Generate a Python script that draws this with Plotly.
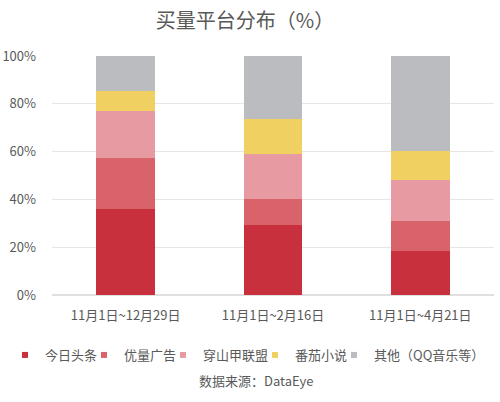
import plotly.graph_objects as go

periods = ['11月1日~12月29日', '11月1日~2月16日', '11月1日~4月21日']
platforms = ['今日头条', '优量广告', '穿山甲联盟', '番茄小说', '其他（QQ音乐等）']
shares = [
    [36.0, 29.3, 18.5],   # 今日头条
    [21.2, 11.0, 12.5],   # 优量广告
    [19.9, 18.7, 17.1],   # 穿山甲联盟
    [8.4, 14.5, 12.3],    # 番茄小说
    [14.5, 26.5, 39.6],   # 其他
]
colors = ['#c9303e', '#d8636b', '#e89aa3', '#f0d060', '#bbbcc0']

font_family = 'Noto Sans CJK SC, Noto Sans, sans-serif'
# where each legend entry sits (paper x), one legend per platform
legend_x = [-0.1063, 0.0724, 0.2511, 0.4593, 0.638]

fig = go.Figure()
for name, vals, c in zip(platforms, shares, colors):
    fig.add_trace(go.Bar(x=periods, y=vals, name=name, showlegend=False,
                         marker=dict(color=c, line=dict(width=0))))

# small square legend keys
for i, (name, c) in enumerate(zip(platforms, colors)):
    lg = 'legend' if i == 0 else f'legend{i + 1}'
    fig.add_trace(go.Scatter(x=[None], y=[None], mode='markers', name=name, legend=lg,
                             marker=dict(symbol='square', size=6, color=c)))

layout_legends = {}
for i, lx in enumerate(legend_x):
    key = 'legend' if i == 0 else f'legend{i + 1}'
    layout_legends[key] = dict(x=lx, xanchor='left', y=-0.251, yanchor='middle',
                               font=dict(size=13), itemwidth=30, bgcolor='rgba(0,0,0,0)')

fig.update_layout(
    barmode='stack',
    bargap=0.6,
    width=500, height=402,
    margin=dict(l=52, r=6, t=56, b=107, autoexpand=False),
    plot_bgcolor='white', paper_bgcolor='white',
    font=dict(family=font_family, size=13, color='#595959'),
    title=dict(text='买量平台分布（%）', x=0.49, xanchor='center', y=0.948, yanchor='middle',
               font=dict(size=20, color='#595959')),
    showlegend=True,
    **layout_legends,
)
fig.update_xaxes(showline=False, ticks='', tickfont=dict(size=13), ticklabelstandoff=11)
fig.update_yaxes(range=[0, 100], dtick=20, ticksuffix='%', gridcolor='#e6e6e6',
                 zeroline=True, zerolinecolor='#e0e0e0', ticks='', ticklabelstandoff=15,
                 tickfont=dict(size=13))
fig.add_annotation(text='数据来源：DataEye', xref='paper', yref='paper', x=0.4615, y=-0.356,
                   xanchor='center', yanchor='middle', showarrow=False, font=dict(size=13, color='#595959'))

# page body has a default 8px margin; drop it so the figure sits at the window corner
fig.write_html('out.html', config={'displayModeBar': False},
               post_script="document.body.style.margin='0';")
